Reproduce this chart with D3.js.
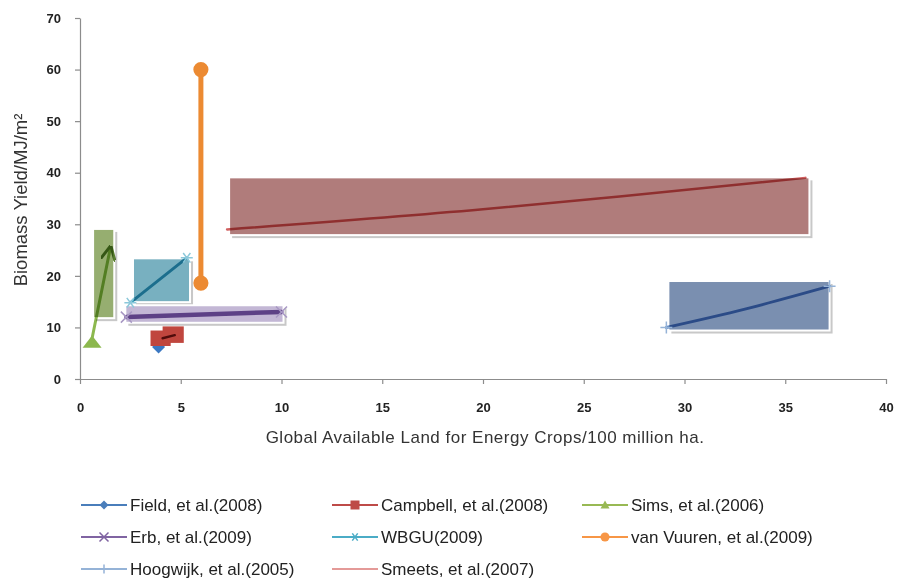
<!DOCTYPE html>
<html>
<head>
<meta charset="utf-8">
<script src="https://cdn.jsdelivr.net/npm/d3@7"></script>
<style>
  body { margin: 0; background: #fff; }
  svg { display: block; }
  .blend { mix-blend-mode: multiply; }
</style>
</head>
<body>
<script>
// ---- data ----
var xTicks = [0, 5, 10, 15, 20, 25, 30, 35, 40];
var yTicks = [0, 10, 20, 30, 40, 50, 60, 70];

var studies = ["Field, et al.(2008)", "Campbell, et al.(2008)", "Sims, et al.(2006)",
               "Erb, et al.(2009)", "WBGU(2009)", "van Vuuren, et al.(2009)",
               "Hoogwijk, et al.(2005)", "Smeets, et al.(2007)"];

// series points [land, yield]
var fieldPts    = [[3.9, 6.2]];
var campbellPts = [[4.1, 7.9], [4.7, 8.5]];
var simsPts     = [[0.6, 7.9], [1.5, 25.3]];
var erbPts      = [[2.3, 12.0], [10.0, 13.0]];
var wbguPts     = [[2.5, 14.8], [5.3, 23.5]];
var vuurenPts   = [[6.0, 18.6], [6.0, 60.0]];
var hoogwijkPts = [[29.1, 10.0], [33.0, 13.55], [37.2, 18.0]];
var smeetsPts   = [[7.3, 29.0], [20.0, 32.9], [36.0, 39.0]];

// range boxes: [x0, x1, y0, y1]
var simsBox     = [0.65, 1.7, 11.8, 29.1];
var wbguBox     = [2.63, 5.46, 14.9, 23.4];
var erbBox      = [2.25, 10.1, 10.9, 14.3];
var smeetsBox   = [7.4, 36.2, 27.9, 39.1];
var hoogwijkBox = [29.2, 37.2, 9.4, 19.0];
var campbellBoxA = [3.5, 4.5, 6.4, 9.4];
var campbellBoxB = [4.1, 5.15, 7.0, 10.2];

var width = 897, height = 579;

var svg = d3.select("body").append("svg")
    .attr("width", width)
    .attr("height", height)
    .style("font-family", "'Liberation Sans', Arial, sans-serif");

var x = d3.scaleLinear().domain([0, 40]).range([80, 886]);
var y = d3.scaleLinear().domain([0, 70]).range([379, 18]);

// axes
var xAxis = svg.append("g")
    .attr("transform", "translate(0,379)")
    .call(d3.axisBottom(x).tickValues(xTicks).tickSize(5).tickSizeOuter(0).tickPadding(19));
var yAxis = svg.append("g")
    .attr("transform", "translate(80,0)")
    .call(d3.axisLeft(y).tickValues(yTicks).tickSize(5).tickSizeOuter(0).tickPadding(14));

[xAxis, yAxis].forEach(function (g) {
    g.select(".domain").attr("stroke", "#8c8c8c").attr("stroke-width", 1.2);
    g.selectAll(".tick line").attr("stroke", "#8c8c8c").attr("stroke-width", 1.2);
    g.selectAll("text")
        .attr("fill", "#222")
        .style("font-size", "13px")
        .style("font-weight", "bold");
});

svg.append("text")
    .attr("x", 485)
    .attr("y", 443)
    .attr("text-anchor", "middle")
    .attr("fill", "#333")
    .style("font-size", "17px")
    .style("letter-spacing", "0.5px")
    .text("Global Available Land for Energy Crops/100 million ha.");

svg.append("text")
    .attr("transform", "translate(27,200) rotate(-90)")
    .attr("text-anchor", "middle")
    .attr("fill", "#333")
    .style("font-size", "18.5px")
    .text("Biomass Yield/MJ/m²");

// marker shapes
function markerPath(type, s) {
    var h = s / 2;
    if (type === "diamond") return "M0," + (-h) + "L" + h + ",0L0," + h + "L" + (-h) + ",0Z";
    if (type === "square") return "M" + (-h) + "," + (-h) + "h" + s + "v" + s + "h" + (-s) + "Z";
    if (type === "triangle") return "M0," + (-h) + "L" + h + "," + (h * 0.8) + "L" + (-h) + "," + (h * 0.8) + "Z";
    if (type === "flattri") return "M0," + (-h * 0.3) + "L" + h + "," + h + "L" + (-h) + "," + h + "Z";
    if (type === "x") return "M" + (-h) + "," + (-h) + "L" + h + "," + h + "M" + (-h) + "," + h + "L" + h + "," + (-h);
    if (type === "plus") return "M" + (-h) + ",0H" + h + "M0," + (-h) + "V" + h;
    if (type === "asterisk") return "M" + (-h) + ",0H" + h + "M" + (-h * 0.6) + "," + (-h * 0.8) + "L" + (h * 0.6) + "," + (h * 0.8) + "M" + (-h * 0.6) + "," + (h * 0.8) + "L" + (h * 0.6) + "," + (-h * 0.8);
    if (type === "circle") return d3.symbol(d3.symbolCircle, s * s * 0.8)();
    return "";
}
var filledMarkers = { diamond: true, square: true, triangle: true, flattri: true, circle: true };

var lineGen = d3.line().x(d => x(d[0])).y(d => y(d[1]));
var curveGen = d3.line().x(d => x(d[0])).y(d => y(d[1])).curve(d3.curveCatmullRom);

function drawMarkers(pts, type, size, color) {
    svg.append("g").selectAll("path")
        .data(pts)
        .enter()
        .append("path")
        .attr("transform", d => `translate(${x(d[0])},${y(d[1])})`)
        .attr("d", markerPath(type, size))
        .attr("fill", filledMarkers[type] ? color : "none")
        .attr("stroke", color)
        .attr("stroke-width", filledMarkers[type] ? 0 : 1.5);
}

function drawBox(b, fill, shadow) {
    var bx = x(b[0]), by = y(b[3]), bw = x(b[1]) - x(b[0]), bh = y(b[2]) - y(b[3]);
    if (shadow) {
        svg.append("rect")
            .attr("x", bx + 3).attr("y", by + 3)
            .attr("width", bw).attr("height", bh)
            .attr("fill", "#9a9a9a").attr("opacity", 0.55);
    }
    svg.append("rect")
        .attr("x", bx).attr("y", by)
        .attr("width", bw).attr("height", bh)
        .attr("fill", fill)
        .attr("stroke", shadow ? "#fff" : "none").attr("stroke-width", 2);
}

// Field sits under the Campbell shape
drawMarkers(fieldPts, "diamond", 13, "#3b78c2");

// boxes
drawBox(smeetsBox, "#b07c7b", true);
drawBox(hoogwijkBox, "#7a8fb0", true);
drawBox(simsBox, "#96ae70", true);
drawBox(wbguBox, "#78b0c0", true);
drawBox(erbBox, "#c3b7d5", true);
drawBox(campbellBoxA, "#c0463e", false);
drawBox(campbellBoxB, "#c0463e", false);

// arrow head for Sims
svg.append("defs").append("marker")
    .attr("id", "arrow")
    .attr("viewBox", "0 0 10 10")
    .attr("refX", 8).attr("refY", 5)
    .attr("markerWidth", 5).attr("markerHeight", 5)
    .attr("orient", "auto")
    .append("path")
    .attr("d", "M0,0L10,5L0,10")
    .attr("fill", "none")
    .attr("stroke", "#5a8030")
    .attr("stroke-width", 2);

// series lines, multiplied over the boxes
function drawLine(pts, color, w, curved) {
    return svg.append("path")
        .datum(pts)
        .attr("class", "blend")
        .attr("d", curved ? curveGen : lineGen)
        .attr("fill", "none")
        .attr("stroke", color)
        .attr("stroke-width", w)
        .attr("stroke-linecap", "round");
}

drawLine(smeetsPts, "#d06060", 2.5, true);
drawLine(hoogwijkPts, "#5a86c4", 3, true);
drawMarkers([hoogwijkPts[0], hoogwijkPts[2]], "plus", 12, "#95b3d7");
drawLine(erbPts, "#7a5aa0", 4.5, false);
drawMarkers(erbPts, "x", 11, "#a898c4");
drawLine(wbguPts, "#3aa0bc", 3, false);
drawMarkers(wbguPts, "asterisk", 12, "#8cc8da");
drawLine(campbellPts, "#6a2a2a", 2.5, false);
drawLine(simsPts, "#8cb84e", 3, false).attr("marker-end", "url(#arrow)");
drawMarkers([simsPts[0]], "flattri", 19, "#8cb84e");

drawLine(vuurenPts, "#ec8a32", 5, false).attr("class", null);
drawMarkers(vuurenPts, "circle", 15, "#ec8a32");

// legend
var legendColors = ["#4a7ebb", "#be4b48", "#98b954", "#8064a2", "#4bacc6", "#f79646", "#95b3d7", "#e49a98"];
var legendMarkers = ["diamond", "square", "triangle", "x", "asterisk", "circle", "plus", "none"];
var legendCols = [81, 332, 582];
var legendRows = [505, 537, 569];

var legend = svg.append("g").selectAll("g")
    .data(studies)
    .enter()
    .append("g")
    .attr("transform", (d, i) => `translate(${legendCols[i % 3]},${legendRows[Math.floor(i / 3)]})`);

legend.append("line")
    .attr("x1", 0).attr("x2", 46)
    .attr("stroke", (d, i) => legendColors[i])
    .attr("stroke-width", 2.2);

legend.append("path")
    .attr("transform", "translate(23,0)")
    .attr("d", (d, i) => markerPath(legendMarkers[i], 9))
    .attr("fill", (d, i) => filledMarkers[legendMarkers[i]] ? legendColors[i] : "none")
    .attr("stroke", (d, i) => legendColors[i])
    .attr("stroke-width", (d, i) => filledMarkers[legendMarkers[i]] ? 0 : 1.5);

legend.append("text")
    .attr("x", 49)
    .attr("dy", "0.35em")
    .attr("fill", "#222")
    .style("font-size", "17px")
    .text(d => d);
</script>
</body>
</html>
